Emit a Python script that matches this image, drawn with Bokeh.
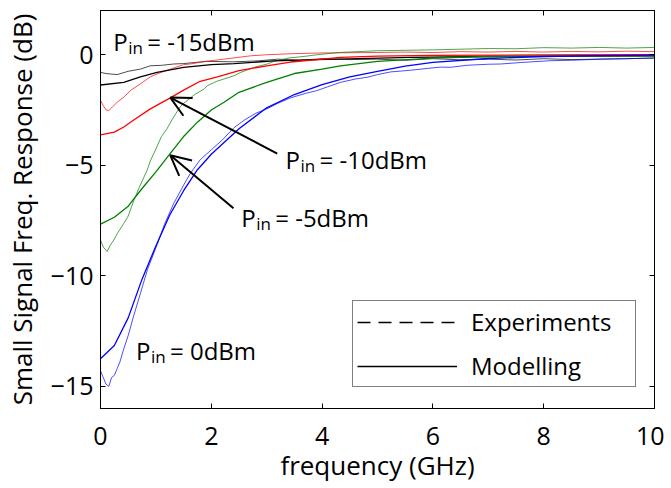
from bokeh.plotting import figure
from bokeh.models import (LinearAxis, Legend, LegendItem, Label, Arrow, OpenHead,
                          FixedTicker)
from bokeh.embed import file_html
from bokeh.resources import INLINE

FONT = "Open Sans"

# ---------------- data ----------------
x_ticks = [0, 2, 4, 6, 8, 10]
y_ticks = [-15, -10, -5, 0]

# Modelling (smooth curves)
f_blue_mod = [0.0, 0.25, 0.5, 0.75, 1.0, 1.25, 1.5, 1.75, 2.0, 2.5, 3.0, 3.5, 4.0, 4.5, 5.0, 5.5, 6.0, 7.0, 8.0, 9.0, 10.0]
blue_mod = [-13.75, -13.15, -11.9, -10.15, -8.65, -7.25, -6.15, -5.2, -4.5, -3.35, -2.4, -1.8, -1.35, -1.0, -0.75, -0.52, -0.35, -0.17, -0.08, -0.04, -0.02]

f_green_mod = [0.0, 0.25, 0.5, 0.75, 1.0, 1.25, 1.5, 1.75, 2.0, 2.23, 2.5, 3.0, 3.5, 4.0, 4.33, 5.0, 6.0, 7.0, 8.0, 10.0]
green_mod = [-7.66, -7.35, -6.85, -6.05, -5.3, -4.5, -3.7, -3.05, -2.5, -2.15, -1.7, -1.25, -0.85, -0.65, -0.5, -0.3, -0.15, -0.08, -0.06, -0.05]

f_red_mod = [0.0, 0.25, 0.42, 0.6, 0.9, 1.26, 1.5, 1.8, 2.11, 2.5, 3.0, 3.43, 3.91, 4.33, 5.0, 6.0, 8.0, 10.0]
red_mod = [-3.62, -3.5, -3.27, -2.95, -2.45, -1.95, -1.6, -1.2, -1.0, -0.72, -0.5, -0.33, -0.22, -0.12, -0.06, -0.03, -0.01, 0.0]

f_black_mod = [0.0, 0.42, 0.72, 1.02, 1.5, 2.0, 2.41, 3.13, 3.91, 5.6, 7.0, 10.0]
black_mod = [-1.37, -1.25, -1.0, -0.8, -0.57, -0.45, -0.4, -0.28, -0.22, -0.12, -0.08, -0.05]

# Experiments (measured, noisy)
f_blue_exp = [0.0, 0.05, 0.1, 0.15, 0.2, 0.25, 0.3, 0.35, 0.42, 0.5, 0.6, 0.72, 0.85, 1.02, 1.15, 1.32, 1.5, 1.62, 1.8, 2.0, 2.2, 2.41, 2.6, 2.8, 3.0, 3.2, 3.43, 3.7, 3.91, 4.1, 4.33, 4.6, 4.81, 5.0, 5.23, 5.42, 5.6, 5.9, 6.14, 6.32, 6.6, 7.0, 7.22, 7.6, 8.12, 8.5, 9.03, 9.5, 10.0]
blue_exp = [-14.3, -14.6, -14.9, -15.0, -14.6, -14.5, -14.2, -13.9, -13.3, -12.7, -11.8, -10.8, -9.7, -8.6, -7.7, -6.73, -5.9, -5.37, -4.75, -4.3, -3.85, -3.3, -2.95, -2.65, -2.45, -2.2, -1.95, -1.75, -1.62, -1.45, -1.25, -1.1, -1.02, -0.9, -0.78, -0.74, -0.7, -0.62, -0.56, -0.57, -0.48, -0.43, -0.42, -0.35, -0.27, -0.25, -0.2, -0.18, -0.15]

f_green_exp = [0.0, 0.05, 0.12, 0.18, 0.24, 0.3, 0.42, 0.5, 0.6, 0.7, 0.84, 0.9, 0.99, 1.1, 1.2, 1.3, 1.44, 1.5, 1.7, 1.87, 1.93, 2.1, 2.41, 2.53, 2.8, 3.01, 3.13, 3.4, 3.73, 3.91, 4.3, 5.0, 5.5, 6.0, 6.5, 7.0, 7.5, 8.0, 8.5, 9.0, 9.5, 10.0]
green_exp = [-8.38, -8.7, -8.9, -8.6, -8.38, -8.1, -7.63, -7.3, -6.6, -6.0, -5.23, -4.8, -4.32, -3.7, -3.35, -2.9, -2.35, -2.2, -1.8, -1.55, -1.4, -1.2, -0.95, -0.8, -0.55, -0.42, -0.3, -0.15, -0.06, 0.0, 0.1, 0.18, 0.2, 0.22, 0.25, 0.28, 0.27, 0.32, 0.3, 0.33, 0.3, 0.33]

f_red_exp = [0.0, 0.05, 0.1, 0.15, 0.2, 0.3, 0.42, 0.55, 0.72, 0.9, 1.02, 1.26, 1.5, 1.62, 1.9, 2.23, 2.71, 3.0, 3.5, 4.0, 5.0, 5.5, 6.0, 6.5, 7.0, 7.5, 8.0, 8.5, 9.0, 9.5, 10.0]
red_exp = [-2.07, -2.3, -2.5, -2.52, -2.4, -2.15, -1.92, -1.6, -1.32, -1.0, -0.87, -0.65, -0.45, -0.42, -0.3, -0.2, -0.05, 0.0, 0.05, 0.08, 0.1, 0.12, 0.1, 0.14, 0.12, 0.15, 0.12, 0.15, 0.13, 0.16, 0.14]

f_black_exp = [0.0, 0.1, 0.3, 0.5, 0.72, 0.9, 1.1, 1.32, 1.5, 1.92, 2.4, 2.83, 3.2, 3.6, 4.0, 4.5, 5.0, 5.5, 6.0, 6.5, 7.0, 7.5, 8.0, 8.5, 9.0, 9.5, 10.0]
black_exp = [-0.8, -0.85, -0.9, -0.75, -0.65, -0.5, -0.48, -0.42, -0.4, -0.3, -0.32, -0.28, -0.2, -0.25, -0.18, -0.22, -0.2, -0.25, -0.18, -0.23, -0.2, -0.24, -0.18, -0.22, -0.2, -0.18, -0.15]

colors = {"black": "#000000", "red": "#ff0000", "green": "#008000", "blue": "#0000ff"}

# ---------------- figure ----------------
p = figure(width=664, height=488, x_range=(0, 10), y_range=(-16, 2),
           output_backend="svg", toolbar_location=None,
           min_border_left=100, min_border_right=10, min_border_top=10, min_border_bottom=80)
p.grid.visible = False
p.outline_line_color = "black"
p.outline_line_width = 1
p.background_fill_color = "white"

for ax in (p.xaxis[0], p.yaxis[0]):
    ax.major_tick_in = 5
    ax.major_tick_out = 0
    ax.minor_tick_line_color = None
    ax.axis_line_color = "black"
    ax.major_tick_line_color = "black"
    ax.major_label_text_font = FONT
    ax.major_label_text_font_size = "25px"
    ax.major_label_text_color = "black"
    ax.axis_label_text_font = FONT
    ax.axis_label_text_font_size = "26px"
    ax.axis_label_text_font_style = "normal"
    ax.axis_label_text_color = "black"

p.xaxis[0].ticker = FixedTicker(ticks=x_ticks)
p.yaxis[0].ticker = FixedTicker(ticks=y_ticks)
p.xaxis[0].axis_label = "frequency (GHz)"
p.yaxis[0].axis_label = "Small Signal Freq. Response (dB)"
p.xaxis[0].major_label_standoff = 18
p.yaxis[0].major_label_standoff = 7
p.xaxis[0].axis_label_standoff = -1
p.yaxis[0].axis_label_standoff = 8

for place, ticks in (("above", x_ticks), ("right", y_ticks)):
    ax = LinearAxis(ticker=FixedTicker(ticks=ticks), major_tick_in=5, major_tick_out=0,
                    minor_tick_line_color=None, major_label_text_font_size="1px",
                    major_label_text_color=None, major_label_standoff=0,
                    axis_line_color="black")
    p.add_layout(ax, place)

# experiments (thin, lighter)
for f, v, c in ((f_black_exp, black_exp, "black"), (f_red_exp, red_exp, "red"),
                (f_green_exp, green_exp, "green"), (f_blue_exp, blue_exp, "blue")):
    p.line(f, v, line_color=colors[c], line_width=1, line_alpha=0.7)

# modelling (solid)
for f, v, c in ((f_black_mod, black_mod, "black"), (f_red_mod, red_mod, "red"),
                (f_green_mod, green_mod, "green"), (f_blue_mod, blue_mod, "blue")):
    p.line(f, v, line_color=colors[c], line_width=1.3)

# legend with dummy (undrawn) renderers
nan = float("nan")
r_exp = p.line([nan], [nan], line_color="black", line_width=1.3, line_dash="13 8")
r_mod = p.line([nan], [nan], line_color="black", line_width=1.3)
legend = Legend(items=[LegendItem(label="Experiments", renderers=[r_exp]),
                       LegendItem(label="Modelling", renderers=[r_mod])],
                location=(252, 21), glyph_width=100, glyph_height=24, label_height=24,
                label_standoff=14, label_width=160, spacing=11, padding=4, margin=0,
                label_text_font=FONT, label_text_font_size="24px", label_text_color="black",
                border_line_color="black", border_line_width=1, background_fill_alpha=1)
p.add_layout(legend, "center")

# annotations: P_in labels
def pin_label(x, y, rest):
    common = dict(x=x, y=y, text_font=FONT, text_color="black", text_baseline="alphabetic")
    p.add_layout(Label(text="P", text_font_size="24px", y_offset=7, **common))
    p.add_layout(Label(text="in", text_font_size="17px", x_offset=15, y_offset=1, **common))
    p.add_layout(Label(text=rest, text_font_size="24px", x_offset=34, y_offset=7, **common))

pin_label(0.23, 0.26, "= -15dBm")
pin_label(3.34, -5.05, "= -10dBm")
pin_label(2.54, -7.66, "= -5dBm")
pin_label(0.64, -13.7, "= 0dBm")

for (x0, y0, x1, y1) in ((3.19, -4.47, 1.26, -1.94), (2.40, -6.94, 1.26, -4.55)):
    p.add_layout(Arrow(x_start=x0, y_start=y0, x_end=x1, y_end=y1, line_width=2,
                       line_color="black",
                       end=OpenHead(size=20, line_width=2, line_color="black")))

open("out.html", "w").write(file_html(p, INLINE))
